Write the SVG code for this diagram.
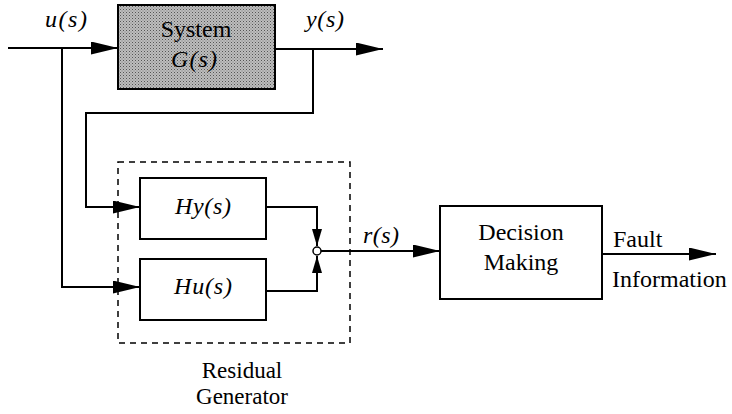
<svg xmlns="http://www.w3.org/2000/svg" width="732" height="414" viewBox="0 0 732 414">
  <style>
    .box { fill: #fff; stroke: #000; stroke-width: 2; }
    .wire { fill: none; stroke: #000; stroke-width: 2; }
    .t { font-family: "Liberation Serif", "Times New Roman", serif; font-size: 24px; fill: #000; }
    .s { font-size: 23px; }
    .i { font-style: italic; }
    .m { text-anchor: middle; }
  </style>
  <defs>
    <marker id="arr" viewBox="0 0 27 13" refX="27" refY="6.5" markerWidth="27" markerHeight="13" markerUnits="userSpaceOnUse" orient="auto">
      <path d="M0,0 L27,6.5 L0,13 Z" fill="#000"/>
    </marker>
    <marker id="arrs" viewBox="0 0 17 10" refX="17" refY="5" markerWidth="17" markerHeight="10" markerUnits="userSpaceOnUse" orient="auto">
      <path d="M0,0 L17,5 L0,10 Z" fill="#000"/>
    </marker>
    <pattern id="halftone" width="3" height="3" patternUnits="userSpaceOnUse">
      <rect width="3" height="3" fill="#bdbdbd"/>
      <rect width="1" height="1" fill="#555"/>
      <rect x="1.5" y="1.5" width="1" height="1" fill="#7a7a7a"/>
    </pattern>
  </defs>
  <rect width="732" height="414" fill="#fff"/>

  <g id="connectors">
    <!-- u(s) into the plant -->
    <path class="wire" d="M8,48 H118" marker-end="url(#arr)"/>
    <!-- plant output y(s) -->
    <path class="wire" d="M275,49 H383" marker-end="url(#arr)"/>
    <!-- y(s) tap down into Hy -->
    <path class="wire" d="M313,49 V113 H86 V207 H140" marker-end="url(#arr)"/>
    <!-- u(s) tap down into Hu -->
    <path class="wire" d="M62,48 V287 H140" marker-end="url(#arr)"/>
    <!-- Hy output to summing junction -->
    <path class="wire" d="M266,207 H317 V246" marker-end="url(#arrs)"/>
    <!-- Hu output to summing junction -->
    <path class="wire" d="M266,291 H317 V256" marker-end="url(#arrs)"/>
    <!-- residual r(s) to decision -->
    <path class="wire" d="M321,251 H440" marker-end="url(#arr)"/>
    <!-- fault information out -->
    <path class="wire" d="M602,254 H716" marker-end="url(#arr)"/>
  </g>

  <g id="system">
    <rect x="118" y="5" width="157" height="84" fill="url(#halftone)" stroke="#000" stroke-width="2"/>
    <text class="t m" x="196" y="37">System</text>
    <text class="t m i" x="194" y="67" textLength="46">G(s)</text>
  </g>

  <g id="residual-generator">
    <rect x="118" y="162" width="232" height="181" fill="none" stroke="#000" stroke-width="1.5" stroke-dasharray="6,5"/>
    <text class="t s m" x="242" y="378">Residual</text>
    <text class="t s m" x="242" y="404">Generator</text>
  </g>

  <g id="hy">
    <rect class="box" x="140" y="178" width="126" height="61"/>
    <text class="t m i" x="203" y="214" textLength="56">Hy(s)</text>
  </g>

  <g id="hu">
    <rect class="box" x="140" y="259" width="126" height="61"/>
    <text class="t m i" x="203" y="294" textLength="58">Hu(s)</text>
  </g>

  <g id="junction">
    <circle cx="317" cy="251" r="4" fill="#fff" stroke="#000" stroke-width="1.5"/>
  </g>

  <g id="decision">
    <rect class="box" x="440" y="206" width="162" height="93"/>
    <text class="t m" x="521" y="240">Decision</text>
    <text class="t m" x="521" y="270">Making</text>
  </g>

  <g id="labels">
    <text class="t i" x="45" y="27" textLength="42">u(s)</text>
    <text class="t i" x="306" y="27" textLength="38">y(s)</text>
    <text class="t i" x="363" y="243" textLength="36">r(s)</text>
    <text class="t" x="613" y="247">Fault</text>
    <text class="t" x="612" y="287">Information</text>
  </g>
</svg>
